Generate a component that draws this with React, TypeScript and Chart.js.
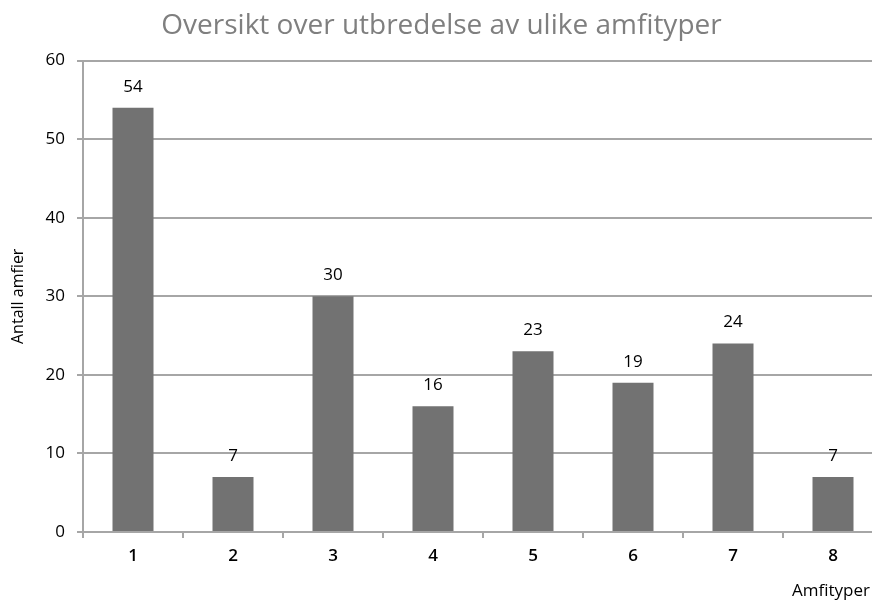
import React, { useEffect, useRef } from "react";
import { Chart, registerables } from "chart.js";

Chart.register(...registerables);

const categories = ["1", "2", "3", "4", "5", "6", "7", "8"];
const counts = [54, 7, 30, 16, 23, 19, 24, 7];
const yTicks = [0, 10, 20, 30, 40, 50, 60];
const chartTitle = "Oversikt over utbredelse av ulike amfityper";
const yTitle = "Antall amfier";
const xTitle = "Amfityper";

const FONT = "'Open Sans', 'DejaVu Sans', sans-serif";
const GRID = "#a6a6a6";

const valueLabels = {
  id: "valueLabels",
  afterDatasetsDraw(chart: any) {
    const ctx = chart.ctx;
    const meta = chart.getDatasetMeta(0);
    ctx.save();
    ctx.font = `17px ${FONT}`;
    ctx.fillStyle = "#000";
    ctx.textAlign = "center";
    ctx.textBaseline = "middle";
    meta.data.forEach((bar: any, i: number) => {
      ctx.fillText(String(counts[i]), bar.x, bar.y - 21);
    });
    ctx.restore();
  },
};

const xAxisTitle = {
  id: "xAxisTitle",
  afterDraw(chart: any) {
    const ctx = chart.ctx;
    ctx.save();
    ctx.font = `17px ${FONT}`;
    ctx.fillStyle = "#000";
    ctx.textAlign = "right";
    ctx.textBaseline = "middle";
    ctx.fillText(xTitle, chart.chartArea.right - 13, 591);
    ctx.restore();
  },
};

export default function App() {
  const ref = useRef<HTMLCanvasElement | null>(null);
  useEffect(() => {
    if (!ref.current) return;
    const chart = new Chart(ref.current, {
      type: "bar",
      data: {
        labels: categories,
        datasets: [
          {
            data: counts,
            backgroundColor: "#727272",
            borderWidth: 0,
            categoryPercentage: 0.82,
            barPercentage: 0.5,
          },
        ],
      },
      plugins: [valueLabels, xAxisTitle],
      options: {
        animation: false,
        responsive: true,
        maintainAspectRatio: false,
        layout: { padding: { left: 0, right: 17, top: 0, bottom: 0 } },
        plugins: {
          legend: { display: false },
          tooltip: { enabled: false },
          title: {
            display: true,
            text: chartTitle,
            color: "#7f7f7f",
            font: { family: FONT, size: 28, weight: "normal" },
            padding: { top: 9, bottom: 18 },
          },
        },
        scales: {
          x: {
            afterFit(scale: any) {
              scale.height = 69;
            },
            grid: {
              drawOnChartArea: false,
              drawTicks: true,
              tickLength: 6,
              color: GRID,
              lineWidth: 2,
            },
            border: { color: GRID, width: 2 },
            ticks: {
              color: "#000",
              font: { family: FONT, size: 17, weight: "600" },
              padding: 8,
            },
          },
          y: {
            min: 0,
            max: 60,
            afterFit(scale: any) {
              scale.width = 83;
            },
            afterBuildTicks(scale: any) {
              scale.ticks = yTicks.map((v) => ({ value: v }));
            },
            grid: {
              color: GRID,
              lineWidth: 2,
              tickLength: 6,
            },
            border: { color: GRID, width: 2 },
            ticks: {
              color: "#000",
              font: { family: FONT, size: 17 },
              padding: 12,
            },
            title: {
              display: true,
              text: yTitle,
              color: "#000",
              font: { family: FONT, size: 16 },
              padding: { top: 9, bottom: 0 },
            },
          },
        },
      },
    });
    return () => chart.destroy();
  }, []);
  return (
    <div
      style={{
        position: "fixed",
        left: 0,
        top: 0,
        width: 872,
        height: 601,
        overflow: "hidden",
        background: "#fff",
      }}
    >
      <div style={{ position: "relative", width: 900, height: 601 }}>
        <canvas ref={ref} />
      </div>
    </div>
  );
}
